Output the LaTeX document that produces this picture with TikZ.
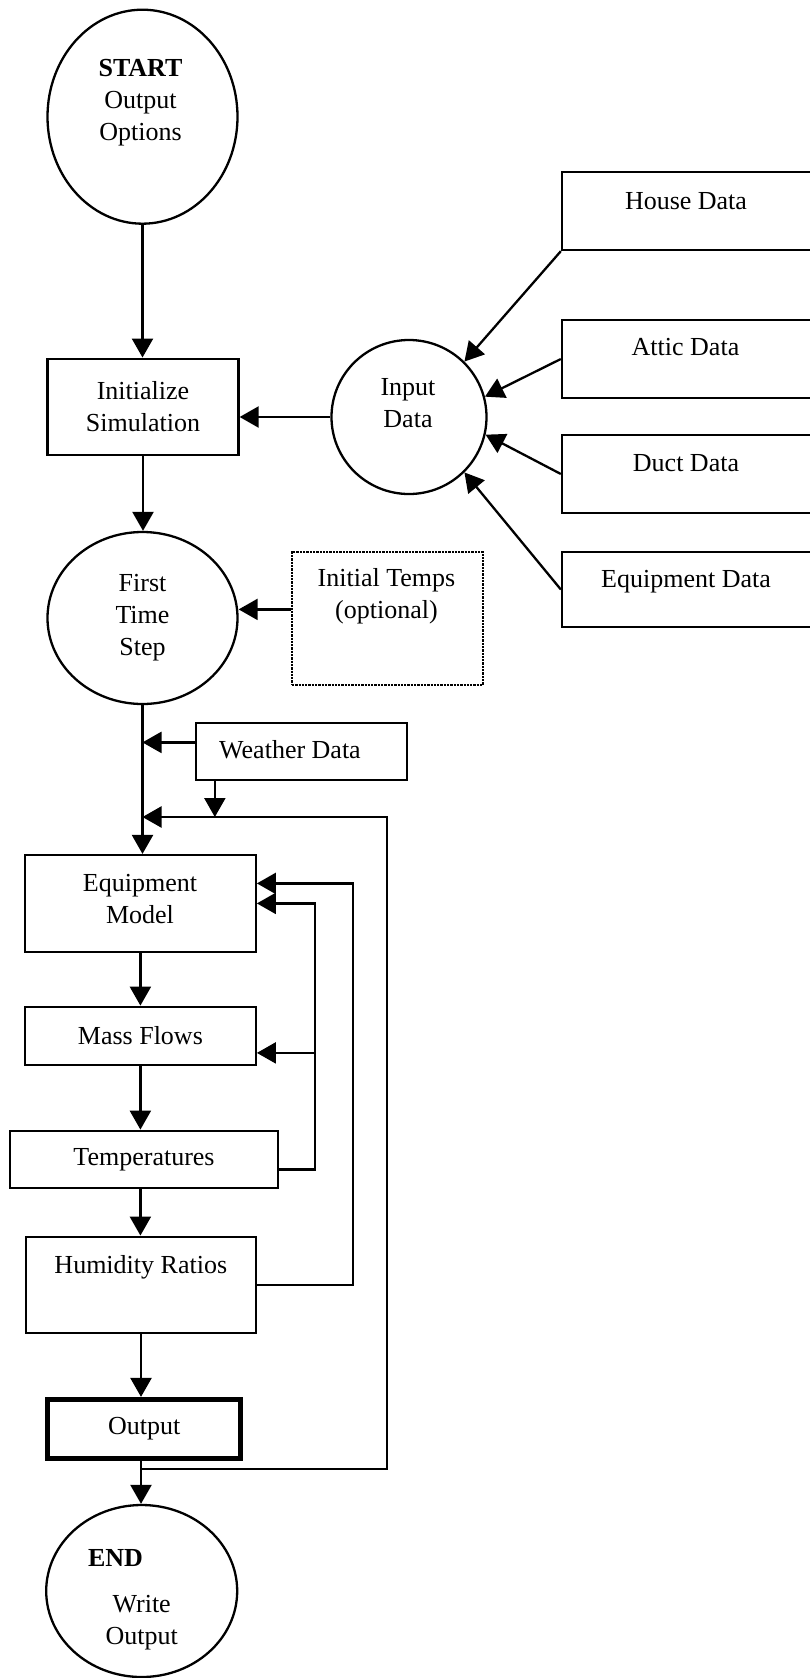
\documentclass[tikz,border=0pt]{standalone}
\usepackage{fontspec}
\setmainfont{Liberation Serif}
\usetikzlibrary{shapes.geometric,arrows.meta}

\begin{document}
\begin{tikzpicture}[x=1pt,y=-1pt,
  font=\fontsize{26pt}{32pt}\selectfont,
  box/.style={draw,line width=2.3pt,inner sep=0pt,align=center},
  oval/.style={draw,ellipse,line width=2.3pt,inner sep=0pt,align=center},
  txt/.style={inner sep=0pt,align=center},
  arr/.style={line width=2.3pt,-{Triangle[length=19pt,width=21pt]}}]
\fill[white] (0,0) rectangle (810,1678);
\useasboundingbox (0,0) rectangle (810,1678);

\node[oval,minimum width=190pt,minimum height=214pt] (start) at (142.5,116.7) {};
\node[txt] (startT) at (140.5,103) {\textbf{START}\\Output\\Options};
\node[box,minimum width=191pt,minimum height=96.6pt] (init) at (143,407) {Initialize\\Simulation};
\node[oval,minimum width=155pt,minimum height=154pt] (input) at (409,417) {};
\node[txt] (inputT) at (408,403.4) {Input\\Data};

\node[box,minimum width=253pt,minimum height=78pt] (house) at (688.5,211) {};
\node[txt] (houseT) at (686,201.4) {House Data};
\node[box,minimum width=253pt,minimum height=78pt] (attic) at (688.5,359) {};
\node[txt] (atticT) at (685.5,347.3) {Attic Data};
\node[box,minimum width=253pt,minimum height=78pt] (duct) at (688.5,474) {};
\node[txt] (ductT) at (686,463) {Duct Data};
\node[box,minimum width=253pt,minimum height=75pt] (eqdata) at (688.5,589.5) {};
\node[txt] (eqdataT) at (686,581.2) {Equipment Data};

\node[oval,minimum width=190pt,minimum height=172pt] (first) at (142.5,618) {First\\Time\\Step};
\node[box,densely dotted,line width=1.6pt,minimum width=191pt,minimum height=133pt] (itemps) at (387.4,618.4) {};
\node[txt] (itempsT) at (386.5,596.7) {Initial Temps\\(optional)};
\node[box,minimum width=211pt,minimum height=57.3pt] (weather) at (301.5,751.4) {};
\node[txt] (weatherT) at (290,749.4) {Weather Data};

\node[box,minimum width=230.7pt,minimum height=96.7pt] (eqm) at (140.4,903.4) {};
\node[txt] (eqmT) at (140,898.6) {Equipment\\Model};
\node[box,minimum width=230.7pt,minimum height=58.3pt] (mass) at (140.4,1035.9) {Mass Flows};
\node[box,minimum width=268pt,minimum height=57.3pt] (temps) at (144,1159.4) {Temperatures};
\node[box,minimum width=230pt,minimum height=96pt] (hum) at (141,1284.7) {};
\node[txt] (humT) at (140.8,1267.2) {Humidity Ratios};
\node[box,line width=4.8pt,minimum width=193pt,minimum height=59pt] (output) at (144.2,1428.8) {Output};
\node[oval,minimum width=191pt,minimum height=172pt] (endn) at (141.7,1591) {};
\node[txt] (endT) at (115.5,1557.9) {\textbf{END}};
\node[txt] (writeT) at (141.7,1623) {Write\\Output};

\coordinate (loopTop) at (387.3,817);
\coordinate (ret1) at (315,0);
\coordinate (ret2) at (353.3,0);

\draw[arr] (start.south) -- (start.south |- init.north);
\draw[arr] (input.west) -- (input.west -| init.east);
\draw[arr] (house.south west) -- (input.45);
\draw[arr] (attic.west) -- (input.15);
\draw[arr] (duct.west) -- (input.-13);
\draw[arr] (eqdata.west) -- (input.-45);
\draw[arr] (init.south) -- (init.south |- first.north);
\draw[arr] ([yshift=9pt]itemps.west) -- ([yshift=9pt]itemps.west -| first.east);
\draw[arr] (first.south) -- (first.south |- eqm.north);
\draw[arr] ([yshift=9pt]weather.west) -- ([yshift=9pt]weather.west -| first.south);
\draw[arr] ([xshift=20pt]weather.south west) -- ([xshift=20pt]weather.south west |- loopTop);
\draw[arr] (eqm.south) -- (eqm.south |- mass.north);
\draw[arr] (mass.south) -- (mass.south |- temps.north);
\draw[arr] (temps.south -| mass.south) -- (mass.south |- hum.north);
\draw[arr] (hum.south) -- (hum.south |- output.north);
\draw[arr] (hum.south |- output.south) -- (hum.south |- endn.north);
\draw[arr] ([yshift=-8.5pt]hum.south |- output.south) -| (loopTop) -- (loopTop -| first.south);
\draw[arr] ([yshift=-10pt]temps.east) -| (ret1 |- eqm.east) -- (eqm.east);
\draw[arr] ([yshift=-17pt]mass.east -| ret1) -- ([yshift=-17pt]mass.east);
\draw[arr] (hum.east) -| ([yshift=20pt]ret2 |- eqm.east) -- ([yshift=20pt]eqm.east);
\end{tikzpicture}
\end{document}
